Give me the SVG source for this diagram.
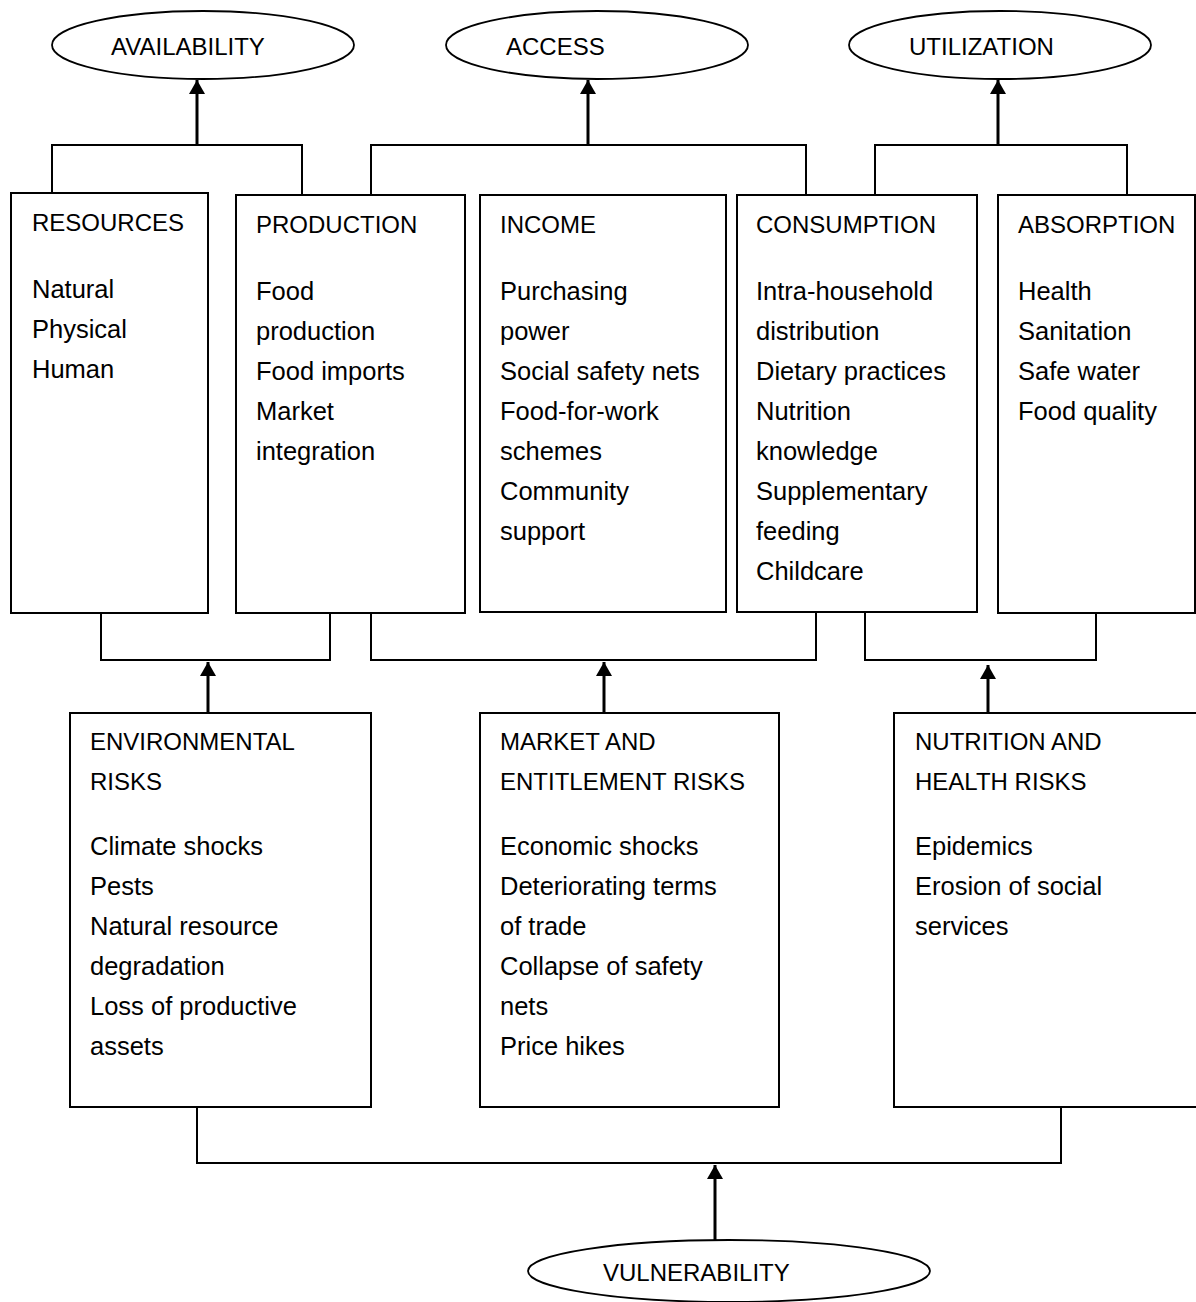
<svg xmlns="http://www.w3.org/2000/svg" width="1196" height="1302" viewBox="0 0 1196 1302">
<style>
  .bg{fill:#ffffff}
  .box{fill:#ffffff;stroke:#000000;stroke-width:2}
  .ell{fill:#ffffff;stroke:#000000;stroke-width:1.8}
  .br{fill:none;stroke:#000000;stroke-width:2}
  .ar{fill:none;stroke:#000000;stroke-width:3}
  .t{font-family:"Liberation Sans",Arial,sans-serif;font-size:25.5px;fill:#000000}
  .h{font-family:"Liberation Sans",Arial,sans-serif;font-size:24px;fill:#000000}
</style>
<defs>
  <marker id="ah" markerUnits="userSpaceOnUse" markerWidth="16" markerHeight="16" viewBox="0 0 16 16" refX="14" refY="8" orient="auto">
    <path d="M0,0 L14,8 L0,16 Z" fill="#000000"/>
  </marker>
</defs>
<rect class="bg" x="0" y="0" width="1196" height="1302"/>

<g id="connectors">
  <!-- top brackets -->
  <path class="br" d="M52,193 V145 H302 V195"/>
  <path class="br" d="M371,195 V145 H806 V195"/>
  <path class="br" d="M875,195 V145 H1127 V195"/>
  <line class="ar" x1="197" y1="145" x2="197" y2="80" marker-end="url(#ah)"/>
  <line class="ar" x1="588" y1="145" x2="588" y2="80" marker-end="url(#ah)"/>
  <line class="ar" x1="998" y1="145" x2="998" y2="80" marker-end="url(#ah)"/>
  <!-- middle brackets -->
  <path class="br" d="M101,613 V660 H330 V613"/>
  <path class="br" d="M371,613 V660 H816 V613"/>
  <path class="br" d="M865,613 V660 H1096 V613"/>
  <line class="ar" x1="208" y1="713" x2="208" y2="662" marker-end="url(#ah)"/>
  <line class="ar" x1="604" y1="713" x2="604" y2="662" marker-end="url(#ah)"/>
  <line class="ar" x1="988" y1="713" x2="988" y2="665" marker-end="url(#ah)"/>
  <!-- bottom bracket -->
  <path class="br" d="M197,1107 V1163 H1061 V1107"/>
  <line class="ar" x1="715" y1="1240" x2="715" y2="1165" marker-end="url(#ah)"/>
</g>

<g id="availability">
  <ellipse class="ell" cx="203" cy="45" rx="151" ry="34"/>
  <text class="h" x="111" y="55">AVAILABILITY</text>
</g>
<g id="access">
  <ellipse class="ell" cx="597" cy="45" rx="151" ry="34"/>
  <text class="h" x="506" y="55">ACCESS</text>
</g>
<g id="utilization">
  <ellipse class="ell" cx="1000" cy="45" rx="151" ry="34"/>
  <text class="h" x="909" y="55">UTILIZATION</text>
</g>

<g id="resources">
  <rect class="box" x="11" y="193" width="197" height="420"/>
  <text class="h" x="32" y="231">RESOURCES</text>
  <text class="t" x="32" y="298">Natural<tspan x="32" dy="40">Physical</tspan><tspan x="32" dy="40">Human</tspan></text>
</g>
<g id="production">
  <rect class="box" x="236" y="195" width="229" height="418"/>
  <text class="h" x="256" y="233">PRODUCTION</text>
  <text class="t" x="256" y="300">Food<tspan x="256" dy="40">production</tspan><tspan x="256" dy="40">Food imports</tspan><tspan x="256" dy="40">Market</tspan><tspan x="256" dy="40">integration</tspan></text>
</g>
<g id="income">
  <rect class="box" x="480" y="195" width="246" height="417"/>
  <text class="h" x="500" y="233">INCOME</text>
  <text class="t" x="500" y="300">Purchasing<tspan x="500" dy="40">power</tspan><tspan x="500" dy="40">Social safety nets</tspan><tspan x="500" dy="40">Food-for-work</tspan><tspan x="500" dy="40">schemes</tspan><tspan x="500" dy="40">Community</tspan><tspan x="500" dy="40">support</tspan></text>
</g>
<g id="consumption">
  <rect class="box" x="737" y="195" width="240" height="417"/>
  <text class="h" x="756" y="233">CONSUMPTION</text>
  <text class="t" x="756" y="300">Intra-household<tspan x="756" dy="40">distribution</tspan><tspan x="756" dy="40">Dietary practices</tspan><tspan x="756" dy="40">Nutrition</tspan><tspan x="756" dy="40">knowledge</tspan><tspan x="756" dy="40">Supplementary</tspan><tspan x="756" dy="40">feeding</tspan><tspan x="756" dy="40">Childcare</tspan></text>
</g>
<g id="absorption">
  <rect class="box" x="998" y="195" width="197" height="418"/>
  <text class="h" x="1018" y="233">ABSORPTION</text>
  <text class="t" x="1018" y="300">Health<tspan x="1018" dy="40">Sanitation</tspan><tspan x="1018" dy="40">Safe water</tspan><tspan x="1018" dy="40">Food quality</tspan></text>
</g>

<g id="environmental-risks">
  <rect class="box" x="70" y="713" width="301" height="394"/>
  <text class="h" x="90" y="750">ENVIRONMENTAL<tspan x="90" dy="40">RISKS</tspan></text>
  <text class="t" x="90" y="855">Climate shocks<tspan x="90" dy="40">Pests</tspan><tspan x="90" dy="40">Natural resource</tspan><tspan x="90" dy="40">degradation</tspan><tspan x="90" dy="40">Loss of productive</tspan><tspan x="90" dy="40">assets</tspan></text>
</g>
<g id="market-risks">
  <rect class="box" x="480" y="713" width="299" height="394"/>
  <text class="h" x="500" y="750">MARKET AND<tspan x="500" dy="40">ENTITLEMENT RISKS</tspan></text>
  <text class="t" x="500" y="855">Economic shocks<tspan x="500" dy="40">Deteriorating terms</tspan><tspan x="500" dy="40">of trade</tspan><tspan x="500" dy="40">Collapse of safety</tspan><tspan x="500" dy="40">nets</tspan><tspan x="500" dy="40">Price hikes</tspan></text>
</g>
<g id="nutrition-risks">
  <rect class="box" x="894" y="713" width="320" height="394"/>
  <text class="h" x="915" y="750">NUTRITION AND<tspan x="915" dy="40">HEALTH RISKS</tspan></text>
  <text class="t" x="915" y="855">Epidemics<tspan x="915" dy="40">Erosion of social</tspan><tspan x="915" dy="40">services</tspan></text>
</g>

<g id="vulnerability">
  <ellipse class="ell" cx="729" cy="1271" rx="201" ry="31"/>
  <text class="h" x="603" y="1281">VULNERABILITY</text>
</g>
</svg>
